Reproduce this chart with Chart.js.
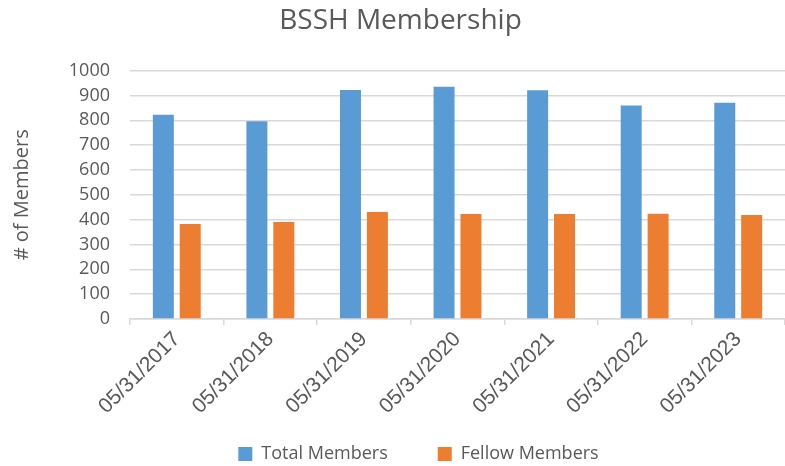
<!DOCTYPE html>
<html>
<head>
<meta charset="utf-8">
<script src="https://cdn.jsdelivr.net/npm/chart.js@4.4.0/dist/chart.umd.min.js"></script>
<style>
  html, body { margin: 0; padding: 0; background: #fff; }
  #wrap { width: 785px; height: 466px; }
</style>
</head>
<body>
<div id="wrap"><canvas id="myChart" width="785" height="466"></canvas></div>
<script>
/* ---------- DATA ---------- */
const dates = ['05/31/2017', '05/31/2018', '05/31/2019', '05/31/2020', '05/31/2021', '05/31/2022', '05/31/2023'];
const totalMembers = [822, 796, 922, 935, 921, 860, 871];
const fellowMembers = [382, 390, 431, 423, 423, 424, 419];
const yTicks = [0, 100, 200, 300, 400, 500, 600, 700, 800, 900, 1000];

const grey = '#595959';
const gridGrey = '#d9d9d9';
const fontFamily = '"Open Sans", "Liberation Sans", sans-serif';
const axisFont = '"Liberation Sans", Arial, sans-serif';

/* ---------- PLUGIN: nudge legend to the right ---------- */
const legendShift = {
    id: 'legendShift',
    afterLayout(chart) {
        if (chart.legend) chart.legend.left += 36;
    }
};

/* ---------- CHART ---------- */
const ctx = document.getElementById('myChart').getContext('2d');

new Chart(ctx, {
    type: 'bar',
    data: {
        labels: dates,
        datasets: [
            {
                label: 'Total Members',
                data: totalMembers,
                backgroundColor: '#5b9bd5',
                categoryPercentage: 0.575,
                barPercentage: 0.78
            },
            {
                label: 'Fellow Members',
                data: fellowMembers,
                backgroundColor: '#ed7d31',
                categoryPercentage: 0.575,
                barPercentage: 0.78
            }
        ]
    },
    plugins: [legendShift],
    options: {
        responsive: false,
        animation: false,
        layout: {
            // legend padding is large for the item gap, pull it back down a bit
            padding: { left: 10, right: -6, top: 0, bottom: -7 }
        },
        plugins: {
            title: {
                display: true,
                text: 'BSSH Membership',
                color: grey,
                font: { family: fontFamily, size: 28, weight: 'normal' },
                padding: { top: 4, bottom: 33 }
            },
            legend: {
                position: 'bottom',
                labels: {
                    color: grey,
                    font: { family: fontFamily, size: 18 },
                    boxWidth: 14,
                    boxHeight: 14,
                    padding: 50
                }
            },
            tooltip: { enabled: false }
        },
        scales: {
            x: {
                grid: {
                    display: true,
                    offset: true,
                    drawOnChartArea: false,
                    drawTicks: true,
                    tickLength: 6,
                    color: gridGrey,
                    lineWidth: 1.5
                },
                border: { color: gridGrey, width: 1.5 },
                ticks: {
                    color: grey,
                    font: { family: axisFont, size: 21 },
                    maxRotation: 45,
                    minRotation: 45,
                    padding: 2
                },
                afterFit: scale => {
                    scale.height = 76;
                    // let the rotated labels run past the short axis box
                    scale._computeLabelArea = () => undefined;
                }
            },
            y: {
                min: 0,
                max: 1000,
                afterBuildTicks: scale => {
                    scale.ticks = yTicks.map(v => ({ value: v }));
                },
                grid: {
                    color: gridGrey,
                    lineWidth: 1.5,
                    drawTicks: false
                },
                border: { display: false },
                ticks: {
                    color: grey,
                    font: { family: fontFamily, size: 18 },
                    padding: 20,
                    callback: v => String(v)
                },
                title: {
                    display: true,
                    text: '# of Members',
                    color: grey,
                    font: { family: fontFamily, size: 20 },
                    padding: { top: 0, bottom: 6 }
                },
                afterFit: scale => { scale.width = 120; }
            }
        }
    }
});
</script>
</body>
</html>
